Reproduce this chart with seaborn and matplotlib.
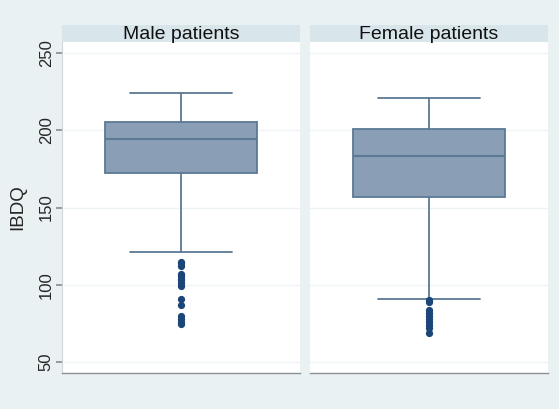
import matplotlib.pyplot as plt
import seaborn as sns

# Stata-like look
sns.set_theme(style="white")
plt.rcParams["font.family"] = ["Liberation Sans", "DejaVu Sans"]

# summary values
groups = ["Male patients", "Female patients"]
whisker_low = [121, 91]
q1 = [172, 157]
median = [194, 183]
q3 = [205, 201]
whisker_high = [224, 221]
outliers = [
    [115, 114, 112, 107, 106, 104, 103, 101, 99, 91, 87, 80, 78, 76, 75],
    [90, 89, 84, 82, 80, 78, 76, 74, 72, 69],
]
yticks = [50, 100, 150, 200, 250]

bg = "#eaf1f3"
strip_col = "#d8e5eb"
box_fill = "#8a9fb6"
box_edge = "#5b7995"
dot_col = "#1c4677"

fig = plt.figure(figsize=(5.59, 4.09), dpi=100, facecolor=bg)

W, H = 559, 409
panels = [(62, 300), (310, 548)]
top, bottom, strip_top = 42, 373, 25

for i, (x0, x1) in enumerate(panels):
    ax = fig.add_axes([x0 / W, 1 - bottom / H, (x1 - x0) / W, (bottom - top) / H])
    ax.set_facecolor("white")
    stats = [{
        "whislo": whisker_low[i], "q1": q1[i], "med": median[i],
        "q3": q3[i], "whishi": whisker_high[i], "fliers": outliers[i],
    }]
    ax.bxp(
        stats, positions=[0], widths=0.64, patch_artist=True,
        boxprops=dict(facecolor=box_fill, edgecolor=box_edge, linewidth=1.3),
        medianprops=dict(color=box_edge, linewidth=1.5),
        whiskerprops=dict(color=box_edge, linewidth=1.3),
        capprops=dict(color=box_edge, linewidth=1.3),
        capwidths=0.43,
        flierprops=dict(marker="o", markerfacecolor=dot_col, markeredgecolor=dot_col,
                        markersize=4.2, linestyle="none"),
    )
    ax.set_xlim(-0.5, 0.5)
    ax.set_ylim(43, 257)
    ax.set_xticks([])
    ax.set_yticks(yticks)
    for y in yticks:
        ax.axhline(y, color="#eef3f5", lw=1.0, zorder=0)
    for s in ["top", "right"]:
        ax.spines[s].set_visible(False)
    ax.spines["bottom"].set_color("#8a8f94")
    ax.spines["bottom"].set_linewidth(1.0)
    if i == 0:
        ax.spines["left"].set_color("#d0d6da")
        ax.spines["left"].set_linewidth(0.8)
        ax.tick_params(axis="y", left=True, length=4, color="#8a8f94",
                       labelsize=12, labelrotation=90, pad=2)
        for lab in ax.get_yticklabels():
            lab.set_va("center")
        ax.set_ylabel("IBDQ", fontsize=13.5, labelpad=9)
    else:
        ax.spines["left"].set_visible(False)
        ax.tick_params(axis="y", left=False, labelleft=False)

    # strip header
    sax = fig.add_axes([x0 / W, 1 - top / H, (x1 - x0) / W, (top - strip_top) / H])
    sax.set_facecolor(strip_col)
    sax.set_xticks([])
    sax.set_yticks([])
    for s in sax.spines.values():
        s.set_visible(False)
    sax.text(0.5, 0.42, groups[i], ha="center", va="center", fontsize=14,
             color="#111111", transform=sax.transAxes)

fig.savefig("out.png", dpi=100, facecolor=bg)
